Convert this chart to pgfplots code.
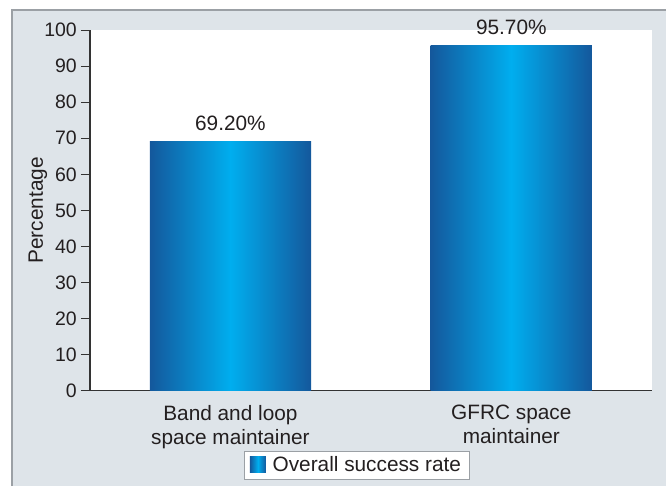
\documentclass[border=0pt]{standalone}
\usepackage{pgfplots}
\pgfplotsset{compat=1.18}
\usepackage{fontspec}
\setmainfont{Liberation Sans}
\definecolor{bgc}{RGB}{222,228,233}
\definecolor{framec}{RGB}{155,160,165}
\definecolor{barDark}{RGB}{20,88,156}
\definecolor{barLight}{RGB}{0,174,239}
\definecolor{txt}{RGB}{35,31,32}
\newcommand{\fs}{\fontsize{15.6}{18}\selectfont}
\newcommand{\ft}{\fontsize{14.6}{17}\selectfont}
\begin{document}
\begin{tikzpicture}
% page and panel
\path[use as bounding box] (0,0) rectangle (499.5pt,364.5pt);
\fill[white] (0,0) rectangle (499.5pt,364.5pt);
\fill[bgc] (9pt,0) rectangle (499.5pt,357pt);
\draw[framec, line width=1.1pt] (9pt,0) -- (9pt,357pt) -- (499.5pt,357pt);
\begin{axis}[
  at={(67.5pt,71.5pt)}, anchor=south west,
  scale only axis, width=421.3pt, height=270.4pt,
  xmin=-0.5, xmax=1.5, ymin=0, ymax=100,
  ybar, bar width=0.574, bar shift=0pt,
  axis background/.style={fill=white},
  axis x line*=bottom, axis y line*=left,
  axis line style={-, draw=black!80, line width=0.8pt},
  xtick={0,1},
  xticklabels={{Band and loop\\space maintainer},{GFRC space\\maintainer}},
  x tick style={draw=none},
  ytick={0,10,...,100},
  tick align=outside, major tick length=6.75pt,
  y tick style={black!80, line width=0.8pt},
  /pgf/number format/assume math mode=true,
  xticklabel style={align=center, anchor=north, inner sep=0pt, yshift=-3.9pt, font=\fs, text=txt},
  yticklabel style={font=\ft, text=txt, inner sep=0pt, xshift=-3pt},
  ylabel={Percentage},
  every axis y label/.style={at={(rel axis cs:-0.0926,0.5)}, rotate=90, anchor=center, font=\fs, text=txt},
  nodes near coords={\pgfmathprintnumber[fixed,fixed zerofill,precision=2]{\pgfplotspointmeta}\%},
  every node near coord/.append style={font=\fs, text=txt, anchor=south, inner sep=0pt, yshift=8pt},
  legend style={at={(0.475,-0.206)}, anchor=center, draw=framec, fill=white, font=\fs, text=txt,
    inner xsep=4.5pt, inner ysep=2pt, /tikz/every even column/.append style={column sep=3pt}},
  barstyle/.style={left color=barDark, right color=barDark, middle color=barLight, draw=none},
]
% one plot per bar so that each bar gets its own gradient
\addplot[barstyle,
  legend image code/.code={\shade[left color=barDark,right color=barDark,middle color=barLight] (0pt,-6pt) rectangle (12pt,6pt);}]
  coordinates {(0,69.2)};
\addlegendentry{\hspace*{3pt}Overall success rate}
\addplot[barstyle, forget plot] coordinates {(1,95.7)};
\end{axis}
\end{tikzpicture}
\end{document}
